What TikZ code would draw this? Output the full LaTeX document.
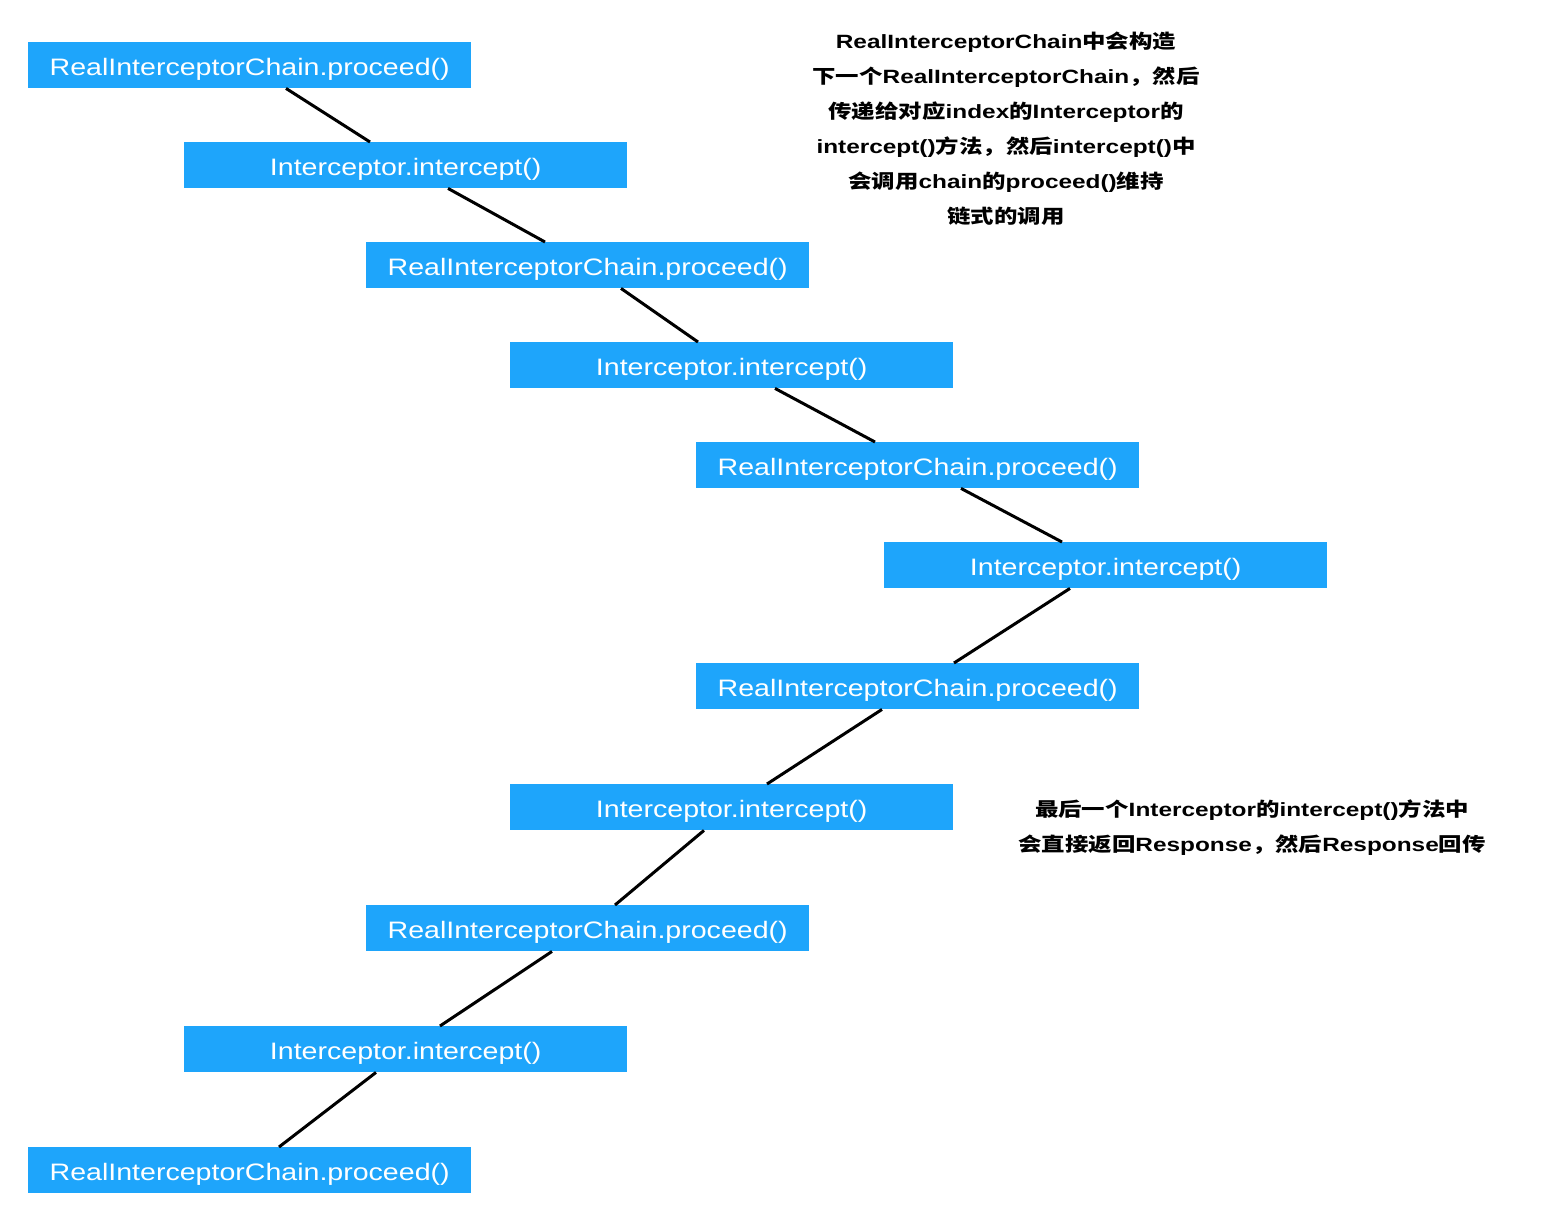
\documentclass[tikz,border=0pt]{standalone}
\usepackage{fontspec}
\newfontfamily\boxfont[FakeStretch=1.2]{Liberation Sans}
\newfontfamily\annlat[FakeStretch=1.27]{Liberation Sans}
\newfontfamily\anncjk[FakeStretch=1.22]{Noto Sans CJK SC}
\newcommand\zh[1]{{\anncjk\bfseries #1}}
\definecolor{boxblue}{HTML}{1EA5FB}
\begin{document}
\begin{tikzpicture}[x=1pt,y=-1pt,
  box/.style={fill=boxblue, minimum width=443pt, minimum height=46pt, inner sep=0pt,
    text height=24pt, text depth=4pt,
    anchor=north west, text=white, font=\boxfont\fontsize{23.8}{28}\selectfont},
  link/.style={line width=3pt},
  ann/.style={align=center, inner sep=0pt, font=\annlat\bfseries\fontsize{19.2}{35}\selectfont}]
\useasboundingbox (0,0) rectangle (1558,1208);
\fill[white] (0,0) rectangle (1558,1208);
\node[box] (n1)  at (28,42)   {RealInterceptorChain.proceed()};
\node[box] (n2)  at (184,142) {Interceptor.intercept()};
\node[box] (n3)  at (366,242) {RealInterceptorChain.proceed()};
\node[box] (n4)  at (510,342) {Interceptor.intercept()};
\node[box] (n5)  at (696,442) {RealInterceptorChain.proceed()};
\node[box] (n6)  at (884,542) {Interceptor.intercept()};
\node[box] (n7)  at (696,663) {RealInterceptorChain.proceed()};
\node[box] (n8)  at (510,784) {Interceptor.intercept()};
\node[box] (n9)  at (366,905) {RealInterceptorChain.proceed()};
\node[box] (n10) at (184,1026) {Interceptor.intercept()};
\node[box] (n11) at (28,1147) {RealInterceptorChain.proceed()};
\draw[link] ([xshift=258pt]n1.south west) -- ([xshift=186pt]n2.north west);
\draw[link] ([xshift=264pt]n2.south west) -- ([xshift=179pt]n3.north west);
\draw[link] ([xshift=255pt]n3.south west) -- ([xshift=188pt]n4.north west);
\draw[link] ([xshift=265pt]n4.south west) -- ([xshift=179pt]n5.north west);
\draw[link] ([xshift=265pt]n5.south west) -- ([xshift=178pt]n6.north west);
\draw[link] ([xshift=186pt]n6.south west) -- ([xshift=258pt]n7.north west);
\draw[link] ([xshift=186pt]n7.south west) -- ([xshift=257pt]n8.north west);
\draw[link] ([xshift=194pt]n8.south west) -- ([xshift=249pt]n9.north west);
\draw[link] ([xshift=186pt]n9.south west) -- ([xshift=256pt]n10.north west);
\draw[link] ([xshift=192pt]n10.south west) -- ([xshift=251pt]n11.north west);
\node[ann] (a1) at (1006,129) {RealInterceptorChain\zh{中会构造}\\
\zh{下一个}RealInterceptorChain\zh{，然后}\\
\zh{传递给对应}index\zh{的}Interceptor\zh{的}\\
intercept()\zh{方法，然后}intercept()\zh{中}\\
\zh{会调用}chain\zh{的}proceed()\zh{维持}\\
\zh{链式的调用}};
\node[ann] (a2) at (1252,828) {\zh{最后一个}Interceptor\zh{的}intercept()\zh{方法中}\\
\zh{会直接返回}Response\zh{，然后}Response\zh{回传}};
\end{tikzpicture}
\end{document}
